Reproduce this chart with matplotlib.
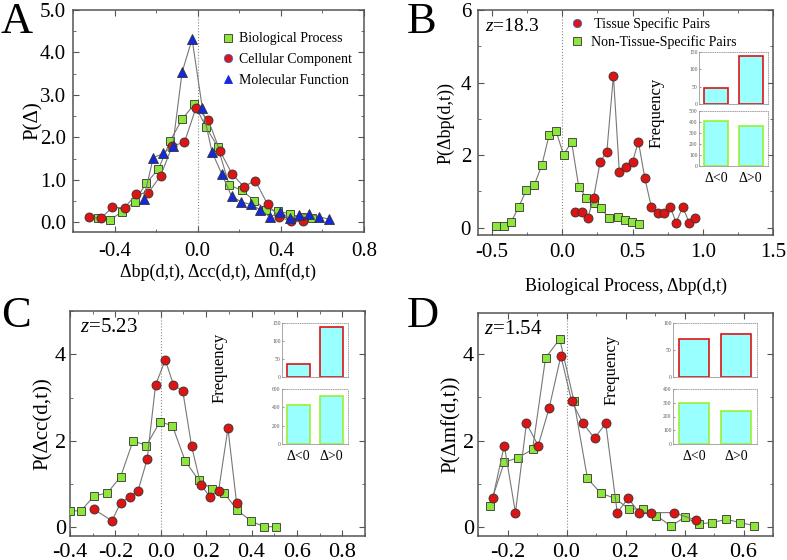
import matplotlib
matplotlib.use("Agg")
import matplotlib.pyplot as plt
from matplotlib.ticker import MultipleLocator, FormatStrFormatter
from matplotlib.lines import Line2D

plt.rcParams['font.family'] = ['Liberation Serif', 'DejaVu Serif']
plt.rcParams['mathtext.fontset'] = 'custom'
plt.rcParams['mathtext.rm'] = 'Liberation Serif'
plt.rcParams['mathtext.it'] = 'Liberation Serif:italic'

GREEN = '#8ee63c'
RED = '#dc1414'
BLUE = '#1428dc'
LINE = '#777777'
CYAN = '#99ffff'

# ---- panel A: all three ontologies
a_bp_x = [-0.48, -0.42, -0.363, -0.304, -0.248, -0.189, -0.133, -0.075, -0.016, 0.04,
          0.096, 0.152, 0.213, 0.272, 0.328, 0.384, 0.443, 0.50, 0.552]
a_bp_y = [0.09, 0.06, 0.25, 0.48, 0.92, 1.25, 1.91, 2.43, 2.78, 2.24,
          1.78, 0.875, 0.75, 0.51, 0.30, 0.27, 0.195, 0.12, 0.09]
a_cc_x = [-0.525, -0.467, -0.411, -0.352, -0.296, -0.237, -0.179, -0.122, -0.064, -0.008,
          0.05, 0.106, 0.165, 0.221, 0.277, 0.336, 0.392, 0.45, 0.507]
a_cc_y = [0.13, 0.09, 0.35, 0.34, 0.66, 0.70, 1.09, 1.80, 1.88, 2.70,
          2.42, 1.69, 1.14, 0.84, 0.98, 0.42, 0.125, 0.02, 0.02]
a_mf_x = [-0.26, -0.214, -0.166, -0.12, -0.075, -0.027, 0.022, 0.069, 0.117, 0.163,
          0.21, 0.254, 0.30, 0.347, 0.397, 0.443, 0.488, 0.536, 0.584, 0.632]
a_mf_y = [0.55, 1.52, 1.62, 1.80, 3.54, 4.31, 2.70, 1.65, 1.125, 0.61,
          0.48, 0.42, 0.30, 0.125, 0.24, 0.09, 0.16, 0.195, 0.13, 0.07]

# ---- panel B: biological process
b_ts_x = [0.092, 0.138, 0.183, 0.223, 0.27, 0.317, 0.364, 0.406, 0.453, 0.50, 0.542,
          0.587, 0.634, 0.681, 0.723, 0.77, 0.81, 0.857, 0.904, 0.946]
b_ts_y = [0.43, 0.43, 0.28, 0.83, 1.82, 2.09, 4.19, 1.54, 1.68, 1.82, 2.37,
          1.38, 0.57, 0.41, 0.41, 0.57, 0.14, 0.57, 0.14, 0.28]
b_nts_x = [-0.472, -0.415, -0.364, -0.31, -0.256, -0.20, -0.146, -0.094, -0.045, 0.009,
           0.066, 0.117, 0.171, 0.223, 0.277, 0.331, 0.394, 0.448, 0.493, 0.547]
b_nts_y = [0.05, 0.05, 0.16, 0.57, 1.04, 1.17, 1.72, 2.55, 2.67, 2.01,
           2.37, 1.13, 0.83, 0.67, 0.55, 0.26, 0.30, 0.21, 0.16, 0.09]

# ---- panel C: cellular component
c_ts_x = [-0.295, -0.215, -0.177, -0.136, -0.10, -0.06, -0.023, 0.02, 0.056, 0.097,
          0.136, 0.176, 0.216, 0.255, 0.296, 0.334]
c_ts_y = [0.42, 0.15, 0.57, 0.71, 0.85, 1.57, 3.29, 3.87, 3.29, 3.15,
          1.87, 0.99, 0.71, 0.85, 2.29, 0.57]
c_nts_x = [-0.40, -0.352, -0.293, -0.236, -0.177, -0.122, -0.063, -0.004, 0.051, 0.108,
           0.167, 0.224, 0.28, 0.337, 0.396, 0.453, 0.509]
c_nts_y = [0.385, 0.38, 0.73, 0.79, 1.17, 2.0, 1.89, 2.44, 2.35, 1.53,
           1.09, 0.89, 0.79, 0.40, 0.15, 0.015, 0.015]

# ---- panel D: molecular function
d_ts_x = [-0.25, -0.211, -0.173, -0.136, -0.096, -0.059, -0.019, 0.017, 0.056, 0.095,
          0.133, 0.172, 0.209, 0.247, 0.286, 0.363, 0.438]
d_ts_y = [0.67, 1.89, 0.34, 2.40, 1.89, 2.75, 3.96, 2.92, 2.40, 2.06,
          2.40, 0.34, 0.67, 0.34, 0.34, 0.34, 0.17]
d_nts_x = [-0.26, -0.211, -0.164, -0.115, -0.071, -0.023, 0.025, 0.071, 0.116, 0.164,
           0.213, 0.26, 0.305, 0.354, 0.40, 0.449, 0.494, 0.542, 0.588, 0.636]
d_nts_y = [0.50, 1.50, 1.61, 1.80, 3.91, 4.35, 2.92, 1.13, 0.79, 0.67,
           0.42, 0.43, 0.27, 0.03, 0.23, 0.08, 0.11, 0.185, 0.11, 0.04]

# ---- inset bar counts (Delta<0, Delta>0)
inset_labels = ['Δ<0', 'Δ>0']
b_freq_ts = [46, 139]
b_freq_nts = [405, 365]
c_freq_ts = [37, 138]
c_freq_nts = [428, 520]
d_freq_ts = [70, 80]
d_freq_nts = [295, 240]

W, H = 787, 560
fig = plt.figure(figsize=(W / 100, H / 100), dpi=100)


def px_axes(x0, y0, x1, y1):
    """Axes from pixel box (left, top, right, bottom)."""
    return fig.add_axes([x0 / W, 1 - y1 / H, (x1 - x0) / W, (y1 - y0) / H])


def style_main(ax, tick_size, xpad=5, ypad=5):
    for s in ax.spines.values():
        s.set_color('#555555')
        s.set_linewidth(1.1)
    ax.tick_params(which='both', direction='in', top=True, right=True,
                   color='#555555', labelsize=tick_size)
    ax.tick_params(axis='x', pad=xpad)
    ax.tick_params(axis='y', pad=ypad)
    ax.tick_params(which='major', length=4)
    ax.tick_params(which='minor', length=2.5)
    ax.axvline(0, color='#888888', lw=0.8, ls=':', zorder=1)


def series(ax, x, y, marker, color, ms):
    ax.plot(x, y, '-', color=LINE, lw=0.8, marker=marker, ms=ms,
            mfc=color, mec='#333333', mew=0.6, zorder=3)


def inset(x0, y0, x1, y1, vals, edge, ymax, ystep, show_x):
    ax = px_axes(x0, y0, x1, y1)
    ax.bar([0, 1], vals, width=0.7, color=CYAN, edgecolor=edge, linewidth=1.2)
    ax.set_xlim(-0.5, 1.5)
    ax.set_ylim(0, ymax)
    ax.yaxis.set_major_locator(MultipleLocator(ystep))
    ax.tick_params(axis='y', direction='in', length=1.5, labelsize=4,
                   labelcolor='#555555', color='#999999', pad=1)
    ax.set_xticks([0, 1])
    ax.tick_params(axis='x', length=0, labelsize=10, pad=4)
    if show_x:
        ax.set_xticklabels(inset_labels)
    else:
        ax.set_xticklabels([])
    for k, s in ax.spines.items():
        s.set_color('#999999')
        s.set_linewidth(0.6)
        if k in ('top', 'right'):
            s.set_linestyle(':')
    return ax


# ================= A =================
axA = px_axes(73, 10, 364, 232)
style_main(axA, 15, xpad=7)
series(axA, a_bp_x, a_bp_y, 's', GREEN, 6)
series(axA, a_cc_x, a_cc_y, 'o', RED, 6.5)
series(axA, a_mf_x, a_mf_y, '^', BLUE, 6.5)
axA.set_xlim(-0.6, 0.8)
axA.set_ylim(-0.23, 5.0)
axA.xaxis.set_major_locator(MultipleLocator(0.4))
axA.xaxis.set_minor_locator(MultipleLocator(0.2))
axA.yaxis.set_major_locator(MultipleLocator(1.0))
axA.yaxis.set_minor_locator(MultipleLocator(0.5))
axA.xaxis.set_major_formatter(FormatStrFormatter('%.1f'))
axA.yaxis.set_major_formatter(FormatStrFormatter('%.1f'))
axA.set_xlabel('Δbp(d,t), Δcc(d,t), Δmf(d,t)', fontsize=13, labelpad=2)
axA.set_ylabel('P(Δ)', fontsize=15, labelpad=-2)
hA = [Line2D([], [], ls='', marker='s', ms=6, mfc=GREEN, mec='#333333', mew=0.6),
      Line2D([], [], ls='', marker='o', ms=6, mfc=RED, mec='#4466cc', mew=0.6),
      Line2D([], [], ls='', marker='^', ms=6, mfc=BLUE, mec=BLUE, mew=0.6)]
axA.legend(hA, ['Biological Process', 'Cellular Component', 'Molecular Function'],
           loc='upper left', bbox_to_anchor=(0.48, 0.93), frameon=False,
           fontsize=10, handletextpad=0.2, labelspacing=0.55, borderpad=0,
           handlelength=1.2)

# ================= B =================
axB = px_axes(478, 10, 773, 235)
style_main(axB, 15, xpad=6)
series(axB, b_nts_x, b_nts_y, 's', GREEN, 6)
series(axB, b_ts_x, b_ts_y, 'o', RED, 6.5)
axB.set_xlim(-0.6, 1.5)
axB.set_ylim(-0.2, 6)
axB.xaxis.set_major_locator(MultipleLocator(0.5))
axB.xaxis.set_minor_locator(MultipleLocator(0.25))
axB.yaxis.set_major_locator(MultipleLocator(2))
axB.yaxis.set_minor_locator(MultipleLocator(1))
axB.xaxis.set_major_formatter(FormatStrFormatter('%.1f'))
axB.set_xlabel('Biological Process, Δbp(d,t)', fontsize=13, labelpad=11)
axB.set_ylabel('P(Δbp(d,t))', fontsize=13, labelpad=4)
axB.text(0.025, 0.925, '$z$=18.3', transform=axB.transAxes, fontsize=14, va='center')
hB = [Line2D([], [], ls='', marker='o', ms=6, mfc=RED, mec='#4466cc', mew=0.6),
      Line2D([], [], ls='', marker='s', ms=6, mfc=GREEN, mec='#333333', mew=0.6)]
axB.legend(hB, [' Tissue Specific Pairs', 'Non-Tissue-Specific Pairs'],
           loc='upper left', bbox_to_anchor=(0.285, 1.0), frameon=False,
           fontsize=10, handletextpad=0.4, labelspacing=0.3, borderpad=0,
           handlelength=1.2)
inset(699, 52, 768, 104, b_freq_ts, RED, 150, 50, False)
inset(699, 111, 768, 166, b_freq_nts, '#99f033', 500, 100, True)
fig.text(657 / W, 1 - 113 / H, 'Frequency', rotation=90, fontsize=12,
         ha='center', va='center')

# ================= C =================
axC = px_axes(70, 311, 365, 536)
style_main(axC, 16, xpad=5, ypad=3)
series(axC, c_nts_x, c_nts_y, 's', GREEN, 6)
series(axC, c_ts_x, c_ts_y, 'o', RED, 6.5)
axC.set_xlim(-0.4, 0.9)
axC.set_ylim(-0.2, 5.0)
axC.xaxis.set_major_locator(MultipleLocator(0.2))
axC.xaxis.set_minor_locator(MultipleLocator(0.1))
axC.yaxis.set_major_locator(MultipleLocator(2))
axC.yaxis.set_minor_locator(MultipleLocator(1))
axC.xaxis.set_major_formatter(FormatStrFormatter('%.1f'))
axC.set_ylabel('P(Δcc(d,t))', fontsize=15, labelpad=1)
axC.text(0.035, 0.925, '$z$=5.23', transform=axC.transAxes, fontsize=15, va='center')
inset(282, 323, 348, 377, c_freq_ts, RED, 150, 50, False)
inset(282, 389, 348, 444, c_freq_nts, '#99f033', 600, 200, True)
fig.text(220 / W, 1 - 368 / H, 'Frequency', rotation=90, fontsize=12,
         ha='center', va='center')

# ================= D =================
axD = px_axes(478, 313, 773, 536)
style_main(axD, 16, xpad=5, ypad=3)
series(axD, d_nts_x, d_nts_y, 's', GREEN, 6)
series(axD, d_ts_x, d_ts_y, 'o', RED, 6.5)
axD.set_xlim(-0.3, 0.7)
axD.set_ylim(-0.2, 4.95)
axD.xaxis.set_major_locator(MultipleLocator(0.2))
axD.xaxis.set_minor_locator(MultipleLocator(0.1))
axD.yaxis.set_major_locator(MultipleLocator(2))
axD.yaxis.set_minor_locator(MultipleLocator(1))
axD.xaxis.set_major_formatter(FormatStrFormatter('%.1f'))
axD.set_ylabel('P(Δmf(d,t))', fontsize=15, labelpad=1)
axD.text(0.02, 0.925, '$z$=1.54', transform=axD.transAxes, fontsize=15, va='center')
inset(673, 323, 757, 377, d_freq_ts, RED, 100, 50, False)
inset(673, 389, 757, 444, d_freq_nts, '#99f033', 400, 100, True)
fig.text(612 / W, 1 - 370 / H, 'Frequency', rotation=90, fontsize=12,
         ha='center', va='center')

# panel letters
for lab, x, y in [('A', 1, 22), ('B', 407, 22), ('C', 1, 316), ('D', 407, 316)]:
    fig.text(x / W, 1 - y / H, lab, fontsize=32, ha='left', va='center')

fig.savefig('out.png', dpi=100)
